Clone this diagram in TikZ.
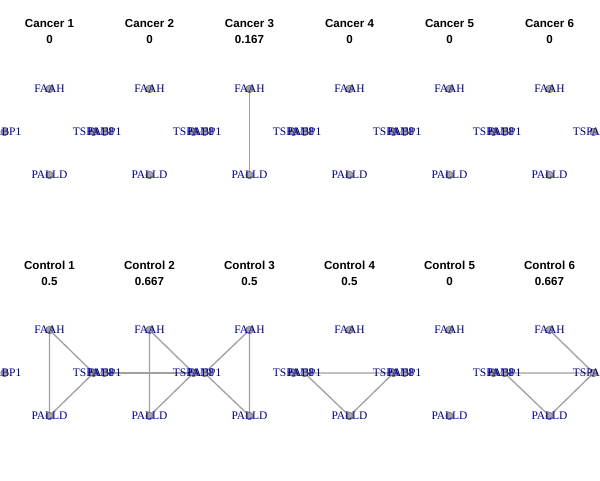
\documentclass[tikz,border=0pt]{standalone}
\usepackage{fontspec}
\setmainfont{Liberation Serif}
\setsansfont{Liberation Sans}
\usetikzlibrary{positioning}

\definecolor{edgegray}{HTML}{A0A0A0}
\definecolor{genenavy}{HTML}{00008B}
\definecolor{vertexgray}{HTML}{A6A6A6}

\begin{document}
\begin{tikzpicture}[x=1pt,y=-1pt,
  vertex/.style={circle,draw=black!65,fill=vertexgray,inner sep=0pt,minimum size=7.5pt,line width=0.5pt},
  gene/.style={text=genenavy,inner sep=0pt,font=\fontsize{11.5}{12}\selectfont},
  paneltitle/.style={align=center,inner sep=0pt,font=\sffamily\bfseries\fontsize{11.6}{16}\selectfont},
  link/.style={edgegray,line width=1.3pt}]
  \useasboundingbox (0,0) rectangle (600,480);
  % Layout of the four genes in every panel
  \foreach \r/\ytop in {c/89, k/330} {
    \foreach \i in {1,...,6} {
      \pgfmathsetmacro{\cx}{100*\i-50.5}
      \coordinate (\r\i-fa) at (\cx,\ytop);
      \coordinate (\r\i-fb) at (\cx-45,\ytop+43);
      \coordinate (\r\i-ts) at (\cx+44,\ytop+43);
      \coordinate (\r\i-pa) at (\cx,\ytop+86);
    }
  }
  % Titles
  \foreach \i/\dens in {1/0, 2/0, 3/0.167, 4/0, 5/0, 6/0}
    \node[paneltitle] (ct\i) at (100*\i-50.5,32) {Cancer \i\\\dens};
  \foreach \i/\dens in {1/0.5, 2/0.667, 3/0.5, 4/0.5, 5/0, 6/0.667}
    \node[paneltitle] (kt\i) at (100*\i-50.5,273) {Control \i\\\dens};
  % Edges
  \draw[link] (c3-fa) -- (c3-pa);
  \draw[link] (k1-fa) -- (k1-pa) -- (k1-ts) -- (k1-fa);
  \draw[link] (k2-fa) -- (k2-pa) -- (k2-ts) -- (k2-fa);
  \draw[link] (k2-fb) -- (k2-ts);
  \draw[link] (k3-fa) -- (k3-pa) -- (k3-fb) -- (k3-fa);
  \draw[link] (k4-fb) -- (k4-ts) -- (k4-pa) -- (k4-fb);
  \draw[link] (k6-fa) -- (k6-ts) -- (k6-pa) -- (k6-fb) -- (k6-ts);
  % Vertices and labels
  \foreach \r in {c, k} {
    \foreach \i in {1,...,6} {
      \foreach \g/\txt in {fa/FAAH, fb/FABP1, ts/TSPAN8, pa/PALLD} {
        \node[vertex] (\r\i-\g-v) at (\r\i-\g) {};
        \node[gene] (\r\i-\g-l) at (\r\i-\g) {\txt};
      }
    }
  }
\end{tikzpicture}
\end{document}
